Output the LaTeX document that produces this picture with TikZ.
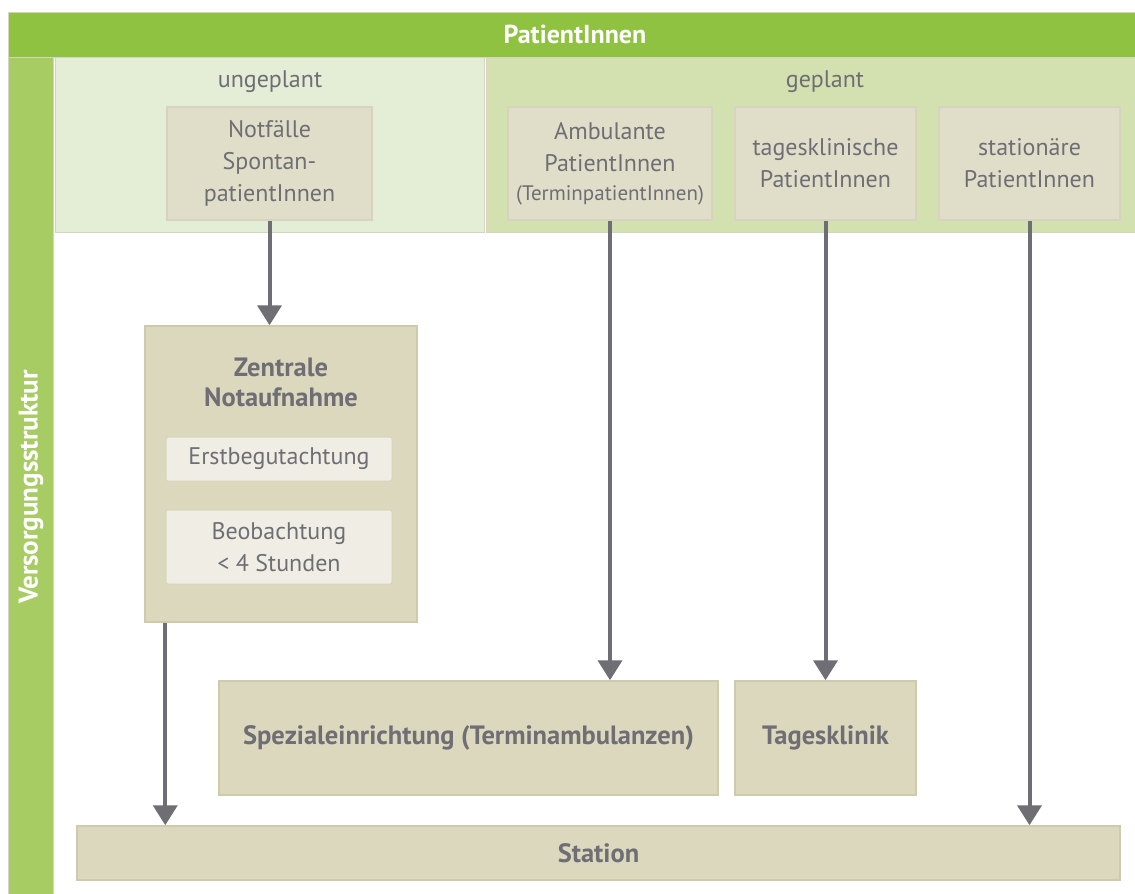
\documentclass[tikz,border=0pt]{standalone}
\usepackage{fontspec}
\setmainfont{PT Sans}
\usepackage{xcolor}
\definecolor{LeafGreen}{RGB}{143,194,65}
\definecolor{SideGreen}{RGB}{168,204,100}
\definecolor{PaleGreen}{RGB}{228,237,214}
\definecolor{SoftGreen}{RGB}{211,225,176}
\definecolor{FrameSand}{RGB}{214,212,190}
\definecolor{TopSand}{RGB}{224,222,201}
\definecolor{BoxSand}{RGB}{220,216,190}
\definecolor{BoxEdge}{RGB}{206,202,172}
\definecolor{InnerSand}{RGB}{240,238,228}
\definecolor{TextGrey}{RGB}{110,110,116}
\usetikzlibrary{arrows.meta}

\begin{document}
\begin{tikzpicture}[x=1pt,y=-1pt,
    region/.style={draw=FrameSand,line width=1pt},
    patbox/.style={draw=FrameSand,line width=1.5pt,fill=TopSand,inner sep=0pt,align=center,
        text=TextGrey,font=\fontsize{24}{32}\selectfont},
    carebox/.style={draw=BoxEdge,line width=1.5pt,fill=BoxSand,inner sep=0pt,align=center,
        text=TextGrey,font=\bfseries\fontsize{26.5}{30}\selectfont},
    subbox/.style={draw=FrameSand,line width=1pt,fill=InnerSand,rounded corners=2pt,inner sep=0pt,
        align=center,text=TextGrey,font=\fontsize{24}{32}\selectfont},
    flow/.style={draw=TextGrey,line width=4pt,-{Triangle[width=24pt,length=20pt]}}]
            \useasboundingbox (0,0) rectangle (1135,894);
            % Rahmen und Bereiche
            \fill[white] (0,0) rectangle (1135,894);
            \draw[region,fill=LeafGreen] (8,12) rectangle (1140,57);
            \draw[region,fill=SideGreen] (8,57) rectangle (53,900);
            \draw[region,fill=PaleGreen] (55,57) rectangle (484,232);
            \draw[region,fill=SoftGreen] (486,57) rectangle (1140,232);
            \node[text=white,font=\bfseries\fontsize{26}{30}\selectfont] (kopf) at (575,34) {PatientInnen};
            \node[text=white,font=\bfseries\fontsize{27}{30}\selectfont,rotate=90] (seite) at (31,487) {Versorgungsstruktur};
            \node[text=TextGrey,font=\fontsize{24}{32}\selectfont] (ungeplant) at (270,82) {ungeplant};
            \node[text=TextGrey,font=\fontsize{24}{32}\selectfont] (geplant) at (825,82) {geplant};
            % PatientInnen
            \node[patbox,minimum width=205pt,minimum height=113pt] (notfall) at (269.5,163.5) {Notfälle\\Spontan-\\patientInnen};
            \node[patbox,minimum width=204pt,minimum height=113pt] (ambulant) at (610,163.5) {Ambulante\\PatientInnen\\[-3pt]{\fontsize{21}{24}\selectfont(TerminpatientInnen)}};
            \node[patbox,minimum width=181pt,minimum height=113pt] (tagpat) at (825.5,163.5) {tagesklinische\\PatientInnen};
            \node[patbox,minimum width=181pt,minimum height=113pt] (statpat) at (1029.5,163.5) {stationäre\\PatientInnen};
            % Versorgung
            \node[carebox,minimum width=272pt,minimum height=296pt] (zna) at (281,474) {};
            \node[text=TextGrey,font=\bfseries\fontsize{26.5}{30}\selectfont,align=center] (znatitel) at (281,382) {Zentrale\\Notaufnahme};
            \node[subbox,minimum width=226pt,minimum height=44pt] (erst) at (279,459) {Erstbegutachtung};
            \node[subbox,minimum width=226pt,minimum height=74pt] (beob) at (279,547) {Beobachtung\\< 4 Stunden};
            \node[carebox,minimum width=499pt,minimum height=114pt] (spezial) at (468.5,738) {Spezialeinrichtung (Terminambulanzen)};
            \node[carebox,minimum width=181pt,minimum height=114pt] (tagklinik) at (825.5,738) {Tagesklinik};
            \node[carebox,minimum width=1043pt,minimum height=54pt] (station) at (598.5,853) {Station};
            % Pfeile
            \draw[flow] (notfall.south) -- (notfall.south |- zna.north);
            \draw[flow] ([xshift=21pt]zna.south west) -- ([xshift=21pt]zna.south west |- station.north);
            \draw[flow] (ambulant.south) -- (ambulant.south |- spezial.north);
            \draw[flow] (tagpat.south) -- (tagklinik.north);
            \draw[flow] (statpat.south) -- (statpat.south |- station.north);
        \end{tikzpicture}
\end{document}
